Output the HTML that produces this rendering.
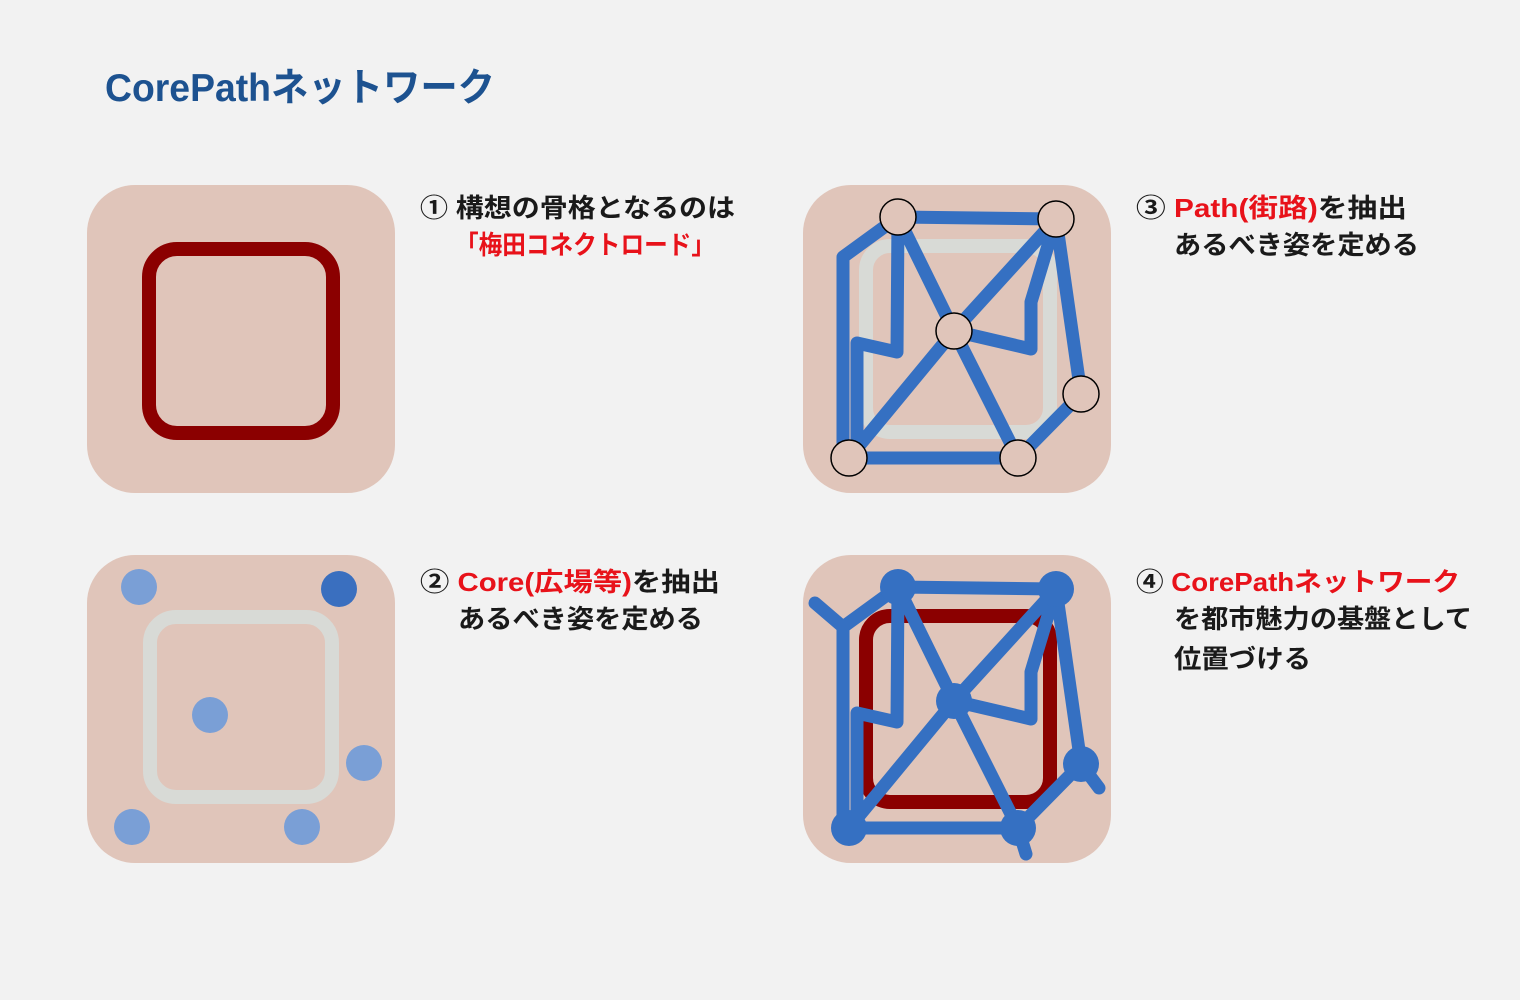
<!DOCTYPE html>
<html><head><meta charset="utf-8"><style>
body{margin:0;background:#f2f2f2;}
svg{display:block}
text{font-family:"Liberation Sans","Noto Sans CJK JP",sans-serif;}
.t{font-size:26px;font-weight:bold;fill:#1a1a1a}
.r{fill:#e8121a}
</style></head><body>
<svg width="1520" height="1000" viewBox="0 0 1520 1000">
<rect width="1520" height="1000" fill="#f2f2f2"/>
<text x="105" y="101" font-size="39" font-weight="bold" fill="#1d5290" textLength="390" lengthAdjust="spacingAndGlyphs">CorePathネットワーク</text>

<rect x="87" y="185" width="308" height="308" rx="48" fill="#e0c5ba"/>
<rect x="149" y="249" width="184" height="184" rx="28" fill="none" stroke="#8b0000" stroke-width="14"/>

<rect x="87" y="555" width="308" height="308" rx="48" fill="#e0c5ba"/>
<rect x="150" y="617" width="182" height="180" rx="26" fill="none" stroke="#d8dad6" stroke-width="14"/>
<g fill="#7a9fd6"><circle cx="139" cy="587" r="18"/><circle cx="210" cy="715" r="18"/><circle cx="364" cy="763" r="18"/><circle cx="132" cy="827" r="18"/><circle cx="302" cy="827" r="18"/></g>
<circle cx="339" cy="589" r="18" fill="#3a6fbf"/>

<rect x="803" y="185" width="308" height="308" rx="48" fill="#e0c5ba"/>
<rect x="866" y="246" width="184" height="186" rx="24" fill="none" stroke="#d8dad6" stroke-width="14"/>
<g fill="none" stroke="#3570c2" stroke-width="13" stroke-linejoin="round" stroke-linecap="round">
<path d="M898 217L1056 219M898 217L843 257L843 455M898 217L897 352L857 343L857 452M898 217L954 331L1018 458M849 458L954 331L1056 219M1056 219L1031 302L1031 349L954 331M1056 219L1081 394L1018 458M849 458L1018 458"/>
</g>
<g fill="#e0c5ba" stroke="#000" stroke-width="1.5">
<circle cx="898" cy="217" r="18"/><circle cx="1056" cy="219" r="18"/><circle cx="954" cy="331" r="18"/><circle cx="1081" cy="394" r="18"/><circle cx="849" cy="458" r="18"/><circle cx="1018" cy="458" r="18"/>
</g>

<rect x="803" y="555" width="308" height="308" rx="48" fill="#e0c5ba"/>
<rect x="866" y="616" width="184" height="186" rx="24" fill="none" stroke="#8b0000" stroke-width="14"/>
<g fill="none" stroke="#3570c2" stroke-width="13" stroke-linejoin="round" stroke-linecap="round" transform="translate(0,370)">
<path d="M898 217L1056 219M898 217L843 257L843 455M898 217L897 352L857 343L857 452M898 217L954 331L1018 458M849 458L954 331L1056 219M1056 219L1031 302L1031 349L954 331M1056 219L1081 394L1018 458M849 458L1018 458M815 233L843 257M1081 394L1099 418M1018 458L1026 484"/>
</g>
<g fill="#3570c2" transform="translate(0,370)">
<circle cx="898" cy="217" r="18"/><circle cx="1056" cy="219" r="18"/><circle cx="954" cy="331" r="18"/><circle cx="1081" cy="394" r="18"/><circle cx="849" cy="458" r="18"/><circle cx="1018" cy="458" r="18"/>
</g>

<text class="t" x="420" y="217" textLength="315" lengthAdjust="spacingAndGlyphs">① 構想の骨格となるのは</text>
<text class="t r" x="455" y="254" textLength="260" lengthAdjust="spacingAndGlyphs">「梅田コネクトロード」</text>
<text class="t" x="420" y="591" textLength="300" lengthAdjust="spacingAndGlyphs">② <tspan class="r">Core(広場等)</tspan>を抽出</text>
<text class="t" x="458" y="628" textLength="245" lengthAdjust="spacingAndGlyphs">あるべき姿を定める</text>
<text class="t" x="1136" y="217" textLength="271" lengthAdjust="spacingAndGlyphs">③ <tspan class="r">Path(街路)</tspan>を抽出</text>
<text class="t" x="1174" y="254" textLength="245" lengthAdjust="spacingAndGlyphs">あるべき姿を定める</text>
<text class="t" x="1136" y="591" textLength="324" lengthAdjust="spacingAndGlyphs">④ <tspan class="r">CorePathネットワーク</tspan></text>
<text class="t" x="1174" y="628" textLength="298" lengthAdjust="spacingAndGlyphs">を都市魅力の基盤として</text>
<text class="t" x="1174" y="668" textLength="137" lengthAdjust="spacingAndGlyphs">位置づける</text>
</svg>
</body></html>
